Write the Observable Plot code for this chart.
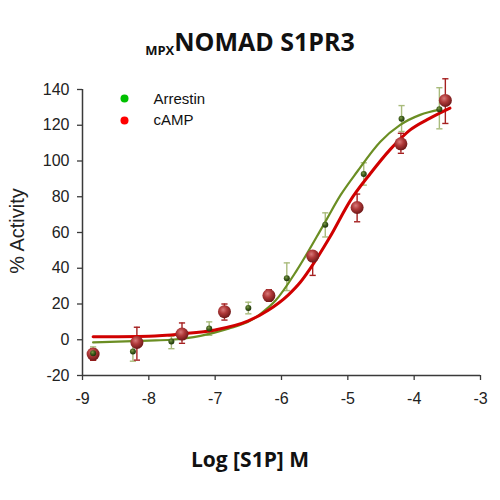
<!DOCTYPE html>
<html>
<head>
<meta charset="utf-8">
<script src="https://cdn.jsdelivr.net/npm/d3@7"></script>
<script src="https://cdn.jsdelivr.net/npm/@observablehq/plot@0.6"></script>
<style>
  html, body { margin: 0; padding: 0; background: #fff; }
  #wrap { width: 500px; height: 500px; position: relative; overflow: hidden; }
  #title { height: 70px; box-sizing: border-box; padding-top: 26px; text-align: center; font-family: "Open Sans", sans-serif; font-weight: bold; font-size: 25px; color: #111; line-height: 30px; }
  #title sub { font-size: 13px; vertical-align: -4px; line-height: 0; }
  #xlabel { height: 70px; text-align: center; font-family: "Open Sans", sans-serif; font-weight: bold; font-size: 21px; color: #111; line-height: 30px; padding-top: 14px; box-sizing: border-box; }
  #ylabel { position: absolute; left: 17px; top: 231px; width: 0; height: 0; }
  #ylabel span { position: absolute; left: 0; top: 0; transform: translate(-50%, -50%) rotate(-90deg); white-space: nowrap; font-family: "Liberation Sans", Arial, sans-serif; font-size: 20px; color: #222; }
  svg { display: block; }
</style>
</head>
<body>
<div id="wrap">
  <div id="title"><sub>MPX</sub>NOMAD S1PR3</div>
  <div id="chart"></div>
  <div id="xlabel">Log [S1P] M</div>
  <div id="ylabel"><span>% Activity</span></div>
</div>
<script>
// ---- data ----
const xTicks = [-9, -8, -7, -6, -5, -4, -3];
const yTicks = [-20, 0, 20, 40, 60, 80, 100, 120, 140];

const seriesNames = ["Arrestin", "cAMP"];
const legendColors = ["#00c000", "#ff0000"];

// Arrestin measured points (mean, lower and upper error)
const arrestinX  = [-8.84, -8.24, -7.66, -7.09, -6.50, -5.92, -5.34, -4.76, -4.19, -3.62];
const arrestinY  = [-7.5, -6.6, -1, 6.3, 17.8, 34.4, 64.4, 92.7, 123.6, 129];
const arrestinLo = [-11.4, -12, -5, 2.5, 14.5, 27.5, 57.5, 86.5, 116.5, 118];
const arrestinHi = [-4, -0.5, 2, 10, 21, 43, 71, 99, 131, 141];

// cAMP measured points
const campX  = [-8.84, -8.18, -7.50, -6.86, -6.19, -5.53, -4.86, -4.20, -3.53];
const campY  = [-8, -1.5, 3.2, 15.7, 24.7, 46.8, 74, 109.6, 133.9];
const campLo = [-11.5, -11.4, -2, 11, 21.5, 36, 66, 104.3, 121];
const campHi = [-5, 7, 9.4, 20, 28, 49, 81.5, 115.5, 146];

// fitted curves
const arrestinCurveX = [-8.84, -8.0, -7.67, -7.22, -6.8, -6.47, -6.32, -6.09, -5.77, -5.37, -5.11, -4.86, -4.51, -4.21, -3.91, -3.61];
const arrestinCurveY = [-1.5, -0.5, 0, 2.2, 6.2, 10.7, 14.4, 21.9, 38.8, 64, 80.9, 94, 110.8, 120.2, 125.8, 128.7];
const campCurveX = [-8.84, -8.0, -7.5, -7.0, -6.5, -6.2, -5.9, -5.72, -5.57, -5.27, -4.96, -4.66, -4.36, -4.06, -3.76, -3.46];
const campCurveY = [1.7, 2.0, 3.3, 5.5, 10.5, 16.5, 25, 32, 39.7, 57.5, 78, 93, 106.5, 117.4, 124, 129.6];

// ---- tables ----
const arrestin = arrestinX.map((x, i) => ({x, y: arrestinY[i], lo: arrestinLo[i], hi: arrestinHi[i]}));
const camp = campX.map((x, i) => ({x, y: campY[i], lo: campLo[i], hi: campHi[i]}));
const arrestinCurve = arrestinCurveX.map((x, i) => ({x, y: arrestinCurveY[i]}));
const campCurve = campCurveX.map((x, i) => ({x, y: campCurveY[i]}));
const legend = seriesNames.map((name, i) => ({name, color: legendColors[i]}));

const capSymbol = {
  draw(ctx, size) {
    const w = Math.sqrt(size);
    ctx.moveTo(-w / 2, 0);
    ctx.lineTo(w / 2, 0);
  }
};

const axisColor = "#3a3a3a";
const fmt = d => String(d);

const legendMarks = legend.flatMap((d, i) => [
  Plot.dot([d], {frameAnchor: "top-left", dx: 42, dy: 9 + i * 22, fill: "color", r: 4}),
  Plot.text([d], {frameAnchor: "top-left", dx: 71, dy: 10 + i * 21, text: "name", textAnchor: "start", lineAnchor: "middle", fill: "#111", fontSize: 15})
]);

const chart = Plot.plot({
  width: 500,
  height: 360,
  marginLeft: 82,
  marginRight: 20,
  marginTop: 19,
  marginBottom: 55,
  style: {fontFamily: "'Liberation Sans', Arial, sans-serif", fontSize: "16px", color: "#222", background: "#fff"},
  x: {domain: [-9, -3]},
  y: {domain: [-20, 140]},
  marks: [
    // error bars
    Plot.ruleX(arrestin, {x: "x", y1: "lo", y2: "hi", stroke: "#a9bb7c", strokeWidth: 1.4}),
    Plot.dot(arrestin, {x: "x", y: "lo", symbol: capSymbol, r: 3.5, stroke: "#a9bb7c", strokeWidth: 1.4}),
    Plot.dot(arrestin, {x: "x", y: "hi", symbol: capSymbol, r: 3.5, stroke: "#a9bb7c", strokeWidth: 1.4}),
    Plot.ruleX(camp, {x: "x", y1: "lo", y2: "hi", stroke: "#a52020", strokeWidth: 1.4}),
    Plot.dot(camp, {x: "x", y: "lo", symbol: capSymbol, r: 3.5, stroke: "#a52020", strokeWidth: 1.4}),
    Plot.dot(camp, {x: "x", y: "hi", symbol: capSymbol, r: 3.5, stroke: "#a52020", strokeWidth: 1.4}),
    // fitted curves
    Plot.line(arrestinCurve, {x: "x", y: "y", stroke: "#6b8e23", strokeWidth: 2.2, curve: "monotone-x"}),
    Plot.line(campCurve, {x: "x", y: "y", stroke: "#d00000", strokeWidth: 3, curve: "monotone-x"}),
    // points
    Plot.dot(camp, {x: "x", y: "y", r: 6.5, fill: "url(#redSphere)", stroke: "none"}),
    Plot.dot(arrestin, {x: "x", y: "y", r: 3, fill: "url(#greenSphere)", stroke: "none"}),
    // axes
    Plot.axisX({ticks: xTicks, tickFormat: fmt, tickSize: 5, tickPadding: 12, stroke: axisColor, strokeWidth: 1.3, label: null, fontSize: 16}),
    Plot.axisY({ticks: yTicks, tickFormat: fmt, tickSize: 5, tickPadding: 8, stroke: axisColor, strokeWidth: 1.3, label: null, fontSize: 16}),
    Plot.ruleX([-9], {stroke: axisColor, strokeWidth: 1.5}),
    Plot.ruleY([-20], {stroke: axisColor, strokeWidth: 1.5}),
    // legend
    ...legendMarks
  ]
});

d3.select(chart).insert("defs", ":first-child").html(`
  <radialGradient id="redSphere" cx="0.4" cy="0.35" r="0.65">
    <stop offset="0" stop-color="#d87a7a"/>
    <stop offset="0.45" stop-color="#b03a3a"/>
    <stop offset="1" stop-color="#6e1818"/>
  </radialGradient>
  <radialGradient id="greenSphere" cx="0.4" cy="0.35" r="0.65">
    <stop offset="0" stop-color="#7e9a4a"/>
    <stop offset="0.5" stop-color="#3f5f1c"/>
    <stop offset="1" stop-color="#1f330c"/>
  </radialGradient>
`);

document.getElementById("chart").appendChild(chart);
</script>
</body>
</html>
